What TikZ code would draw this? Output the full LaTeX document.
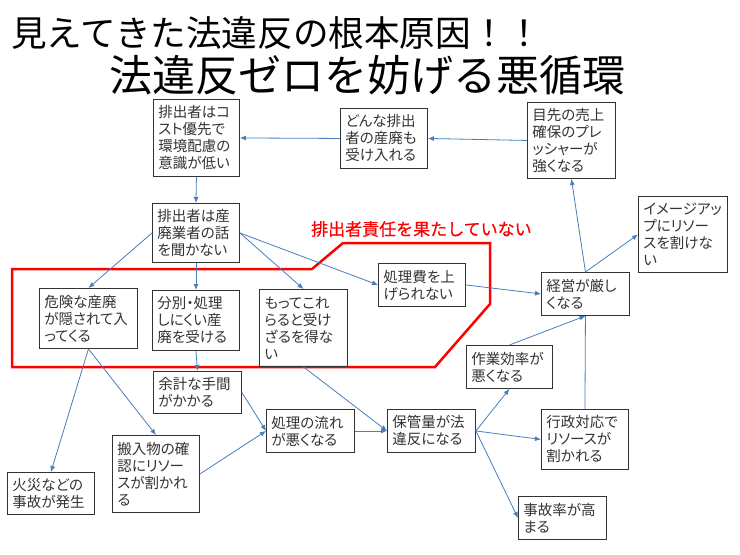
\documentclass[tikz,border=0pt]{standalone}
\usepackage{fontspec}
\usetikzlibrary{arrows.meta}
\newfontfamily\jp[RawFeature=+palt]{Noto Sans CJK JP}
\newfontfamily\jpfull{Noto Sans CJK JP}
\newfontfamily\jpmed[FakeBold=0.6]{Noto Sans CJK JP}
\definecolor{arrblue}{HTML}{4A7EBB}
\definecolor{boxline}{HTML}{333333}
\definecolor{txtgray}{HTML}{333333}
\definecolor{redline}{HTML}{FF0000}
\tikzset{
  box/.style={draw=boxline, line width=0.9pt, inner xsep=5pt, inner ysep=2pt,
    text=txtgray, align=left, anchor=north west,
    font=\jp\fontsize{14.5}{17}\selectfont},
  arr/.style={draw=arrblue, line width=0.8pt, -{Latex[length=6pt,width=5pt]}},
  plainline/.style={draw=arrblue, line width=0.8pt},
  titleone/.style={anchor=west, inner sep=0pt, font=\jpfull\fontsize{35.6}{37}\selectfont},
  titletwo/.style={anchor=west, inner sep=0pt, font=\jpfull\fontsize{43}{45}\selectfont},
  redlabel/.style={anchor=west, inner sep=0pt, text=redline, font=\jpmed\fontsize{17}{19}\selectfont}
}
\begin{document}
\begin{tikzpicture}[x=1pt,y=-1pt]
\useasboundingbox[fill=white] (0,0) rectangle (740,555);

% titles
\node[titleone] (t1) at (11,33) {見えてきた法違反の根本原因！！};
\node[titletwo] (t2) at (109,75) {法違反ゼロを妨げる悪循環};

% red region
\draw[redline, line width=2.5pt, line join=miter]
  (12,269) -- (312,269) -- (343,243) -- (490,243) -- (490,304) -- (435,367) -- (12,367) -- cycle;
\node[redlabel] (rl) at (311,229) {排出者責任を果たしていない};

% boxes
\node[box, text width=76pt, minimum height=77pt] (A) at (153,99) {排出者はコ\\スト優先で\\環境配慮の\\意識が低い};
\node[box, text width=77pt, minimum height=60pt] (B) at (340,108) {どんな排出\\者の産廃も\\受け入れる};
\node[box, text width=78pt, minimum height=76pt] (C) at (527,102) {目先の売上\\確保のプレ\\ッシャーが\\強くなる};
\node[box, text width=79pt, minimum height=76pt] (D) at (638,196) {イメージアッ\\プにリソー\\スを割けな\\い};
\node[box, text width=77pt, minimum height=59pt] (E) at (152,203) {排出者は産\\廃業者の話\\を聞かない};
\node[box, text width=88pt, minimum height=60pt] (F) at (39,288) {危険な産廃\\が隠されて入\\ってくる};
\node[box, text width=77pt, minimum height=60pt] (G) at (152,290) {分別・処理\\しにくい産\\廃を受ける};
\node[box, text width=78pt, minimum height=77pt] (H) at (259,289) {もってこれ\\らると受け\\ざるを得な\\い};
\node[box, text width=77pt, minimum height=43pt] (I) at (378,263) {処理費を上\\げられない};
\node[box, text width=78pt, minimum height=43pt] (J) at (541,272) {経営が厳し\\くなる};
\node[box, text width=76pt, minimum height=43pt] (K) at (466,345) {作業効率が\\悪くなる};
\node[box, text width=78pt, minimum height=43pt] (L) at (387,409) {保管量が法\\違反になる};
\node[box, text width=77pt, minimum height=60pt] (M) at (541,409) {行政対応で\\リソースが\\割かれる};
\node[box, text width=78pt, minimum height=43pt] (N) at (518,496) {事故率が高\\まる};
\node[box, text width=78pt, minimum height=42pt] (O) at (153,371) {余計な手間\\がかかる};
\node[box, text width=78pt, minimum height=43pt] (P) at (266,409) {処理の流れ\\が悪くなる};
\node[box, text width=77pt, minimum height=77pt] (Q) at (112,435) {搬入物の確\\認にリソー\\スが割かれ\\る};
\node[box, text width=77pt, minimum height=42pt] (R) at (7,472) {火災などの\\事故が発生};

% connectors
\draw[arr] (C.west) -- (B.east);
\draw[arr] (B.west) -- (A.east);
\draw[arr] (A.south) -- (E.north);
\draw[arr] (J.north) -- (C.south);
\draw[arr] (J.north) -- (D.west);
\draw[arr] (E.west) -- (F.north);
\draw[arr] (E.south) -- (G.north);
\draw[arr] (E.east) -- (H.north);
\draw[arr] (E.east) -- (I.west);
\draw[arr] (I.east) -- (J.west);
\draw[arr] (K.north) -- (J.south);
\draw[plainline] (M.north) -- (J.south);
\draw[arr] (L.east) -- (K.south);
\draw[arr] (L.east) -- (M.west);
\draw[arr] (L.east) -- (N.west);
\draw[arr] (F.south) -- (R.north);
\draw[arr] (F.south) -- (Q.north);
\draw[arr] (G.south) -- (O.north);
\draw[arr] (O.east) -- (P.west);
\draw[arr] (Q.east) -- (P.west);
\draw[arr] (P.east) -- (L.west);
\draw[arr] (H.south) -- (L.west);
\end{tikzpicture}
\end{document}
